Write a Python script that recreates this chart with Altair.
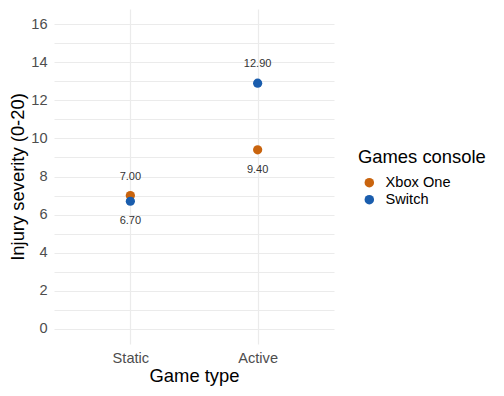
import altair as alt
import pandas as pd

game_type = ["Static", "Static", "Active", "Active"]
console = ["Xbox One", "Switch", "Xbox One", "Switch"]
severity = [7.00, 6.70, 9.40, 12.90]

df = pd.DataFrame({"game": game_type, "console": console, "severity": severity})

FONT = "Liberation Sans"
color = alt.Color(
    "console:N",
    scale=alt.Scale(domain=["Xbox One", "Switch"], range=["#C9640E", "#1A5DAD"]),
    legend=alt.Legend(title="Games console", titleFontSize=18.4, titleFontWeight="normal",
                      labelFontSize=14.6, symbolType="circle", symbolSize=90,
                      titleColor="black", labelColor="black", rowPadding=2,
                      symbolOffset=4, labelOffset=9,
                      titlePadding=9, orient="none", legendX=304, legendY=139),
)
x = alt.X("game:N", sort=["Static", "Active"], title="Game type",
          scale=alt.Scale(type="point", padding=0.6),
          axis=alt.Axis(labelAngle=0, ticks=False, domain=False, grid=True, labelFontSize=14.6,
                        labelColor="#4D4D4D", titleFontSize=18.4, titleFontWeight="normal",
                        titleColor="black", gridColor="#EBEBEB", gridWidth=1.2,
                        labelPadding=6, titlePadding=2))
y = alt.Y("severity:Q", title="Injury severity (0-20)",
          scale=alt.Scale(domain=[-0.8, 16.8], nice=False, zero=False),
          axis=alt.Axis(values=list(range(0, 17)), ticks=False, domain=False, grid=True,
                        labelExpr="datum.value % 2 == 0 ? datum.label : ''",
                        labelFontSize=14.6, labelColor="#4D4D4D", titleFontSize=18.4,
                        titleFontWeight="normal", titleColor="black",
                        gridColor="#EBEBEB", gridWidth=1.1,
                        labelPadding=7, titlePadding=3))

base = alt.Chart(df).transform_joinaggregate(mx="max(severity)", groupby=["game"])

points = base.mark_circle(size=85, opacity=1).encode(x=x, y=y, color=color)
above = base.transform_filter("datum.severity == datum.mx").mark_text(
    dy=-19, fontSize=11, color="#333333", font=FONT
).encode(x=x, y=y, text=alt.Text("severity:Q", format=".2f"))
below = base.transform_filter("datum.severity != datum.mx").mark_text(
    dy=20, fontSize=11, color="#333333", font=FONT
).encode(x=x, y=y, text=alt.Text("severity:Q", format=".2f"))

chart = alt.layer(points, above, below).properties(
    width=280, height=335, background="white",
    padding={"left": 0, "top": 1, "right": 5, "bottom": 5},
).configure(font=FONT).configure_view(stroke=None)

chart.save("out.html", embed_options={"renderer": "svg", "actions": False})
